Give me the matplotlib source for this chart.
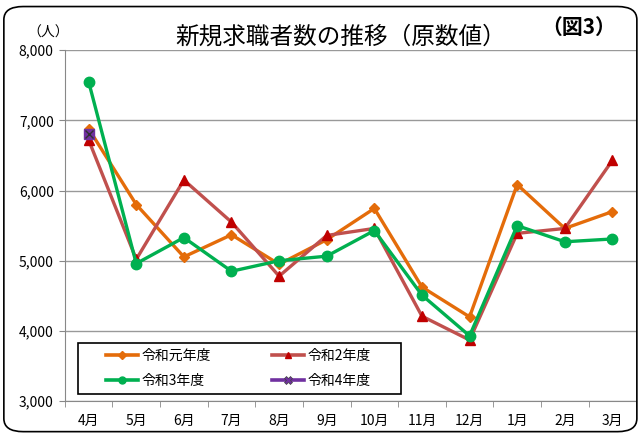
import matplotlib
matplotlib.use("Agg")
import matplotlib.pyplot as plt
from matplotlib.patches import FancyBboxPatch, Rectangle
from matplotlib.lines import Line2D

plt.rcParams['font.family'] = ['Noto Sans CJK JP', 'DejaVu Sans']

months = ["4月", "5月", "6月", "7月", "8月", "9月", "10月", "11月", "12月", "1月", "2月", "3月"]
r1 = [6880, 5800, 5055, 5370, 4950, 5300, 5745, 4625, 4200, 6085, 5460, 5700]
r2 = [6720, 5020, 6150, 5550, 4780, 5360, 5460, 4210, 3870, 5390, 5460, 6430]
r3 = [7550, 4960, 5330, 4850, 5000, 5065, 5430, 4510, 3930, 5500, 5270, 5310]
r4 = [6810]
labels = ["令和元年度", "令和2年度", "令和3年度", "令和4年度"]

fig = plt.figure(figsize=(6.42, 4.36), dpi=100)
fig.patches.append(FancyBboxPatch((0.006, 0.01), 0.986, 0.975, boxstyle="round,pad=0,rounding_size=0.03",
                                  transform=fig.transFigure, fill=False, edgecolor="black", linewidth=1.2))

ax = fig.add_axes([0.101, 0.080, 0.890, 0.805])
x = list(range(len(months)))

ax.plot(x, r1, color="#E46C0A", lw=2.4, marker="D", ms=5.5, zorder=3)
ax.plot(x, r2, color="#C0504D", lw=2.4, marker="^", ms=6.5, mfc="#C00000", mec="#C00000", zorder=3)
ax.plot(x, r3, color="#00B050", lw=2.4, marker="o", ms=7.5, zorder=4)
ax.plot(x[:len(r4)], r4, color="#7030A0", lw=2.4, marker="s", ms=7, mec="#7030A0", zorder=5)
ax.plot(x[:len(r4)], r4, ls="none", marker="x", ms=6, mec="#303030", mew=1, zorder=6)

ax.set_xlim(-0.5, 11.5)
ax.set_ylim(3000, 8000)
ax.set_yticks([3000, 4000, 5000, 6000, 7000, 8000])
ax.set_yticklabels(["{:,}".format(v) for v in [3000, 4000, 5000, 6000, 7000, 8000]], fontsize=10)
ax.set_xticks(x)
ax.set_xticklabels(months, fontsize=10)
ax.set_xticks([i - 0.5 for i in range(13)], minor=True)
ax.tick_params(axis="x", which="major", length=0, pad=9)
ax.tick_params(axis="x", which="minor", length=4, color="#888888")
ax.tick_params(axis="y", length=4, color="#888888", pad=4)
ax.grid(axis="y", color="#999999", lw=1)
ax.set_axisbelow(True)
for s in ["top", "right"]:
    ax.spines[s].set_visible(False)
ax.spines["left"].set_color("#888888")
ax.spines["bottom"].set_color("#888888")

handles = [
    Line2D([], [], color="#E46C0A", lw=2.6, marker="D", ms=4),
    Line2D([], [], color="#C0504D", lw=2.6, marker="^", ms=5, mfc="#C00000", mec="#C00000"),
    Line2D([], [], color="#00B050", lw=2.6, marker="o", ms=5),
    Line2D([], [], color="#7030A0", lw=2.6, marker="X", ms=6, mec="#404040", mew=0.5),
]
order = [0, 2, 1, 3]
fig.patches.append(Rectangle((78 / 642, 42 / 436), 323 / 642, 51 / 436, transform=fig.transFigure,
                             fill=True, facecolor="white", edgecolor="black", linewidth=1.2, zorder=10))
leg = fig.legend([handles[i] for i in order], [labels[i] for i in order], ncol=2,
                 loc="center left", bbox_to_anchor=(106 / 642, 67.5 / 436),
                 fontsize=10, frameon=False, handlelength=2.3, handletextpad=0.25,
                 labelspacing=0.75, borderaxespad=0, borderpad=0, columnspacing=4.4)
leg.set_zorder(11)

fig.text(0.53, 0.915, "新規求職者数の推移（原数値）", fontsize=17, ha="center", va="center")
fig.text(0.902, 0.937, "（図3）", fontsize=15, fontweight="bold", ha="center", va="center")
fig.text(0.075, 0.925, "（人）", fontsize=10, ha="center", va="center")

fig.savefig("out.png", dpi=100)
